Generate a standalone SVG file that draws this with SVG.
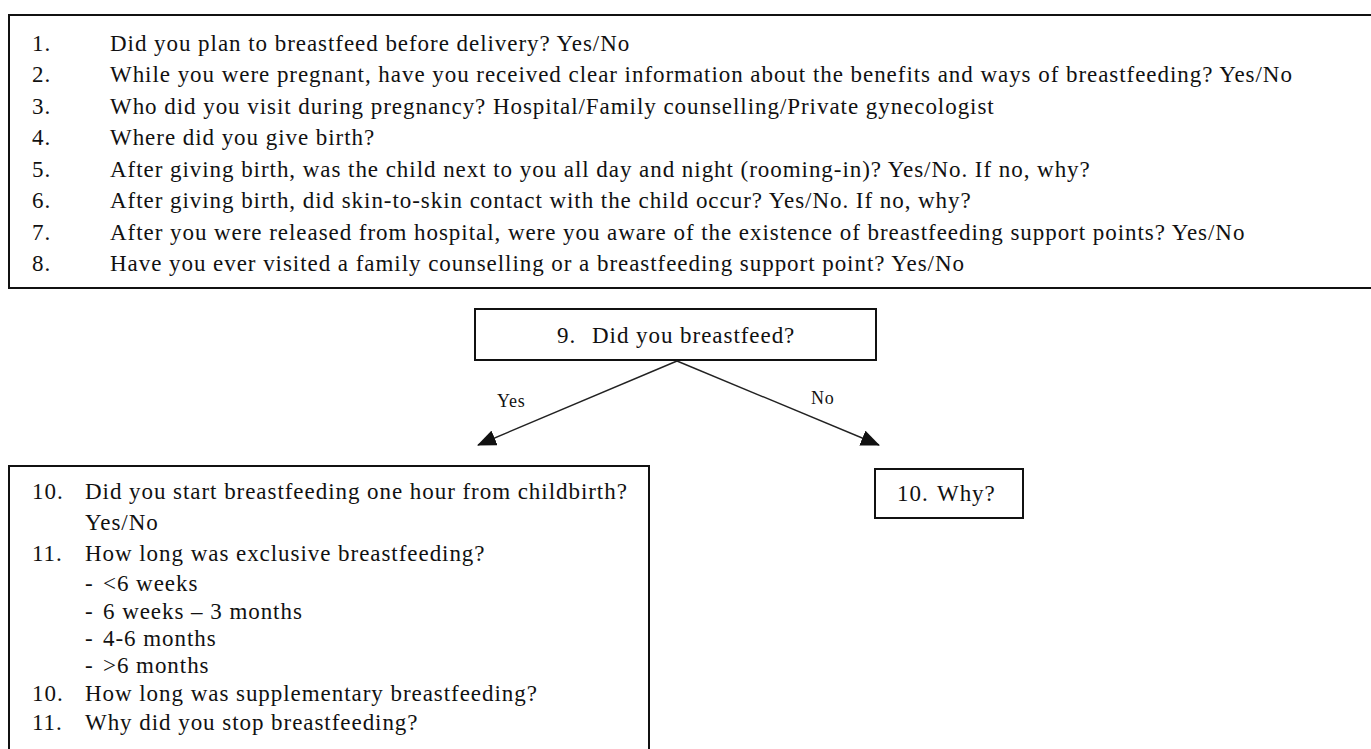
<svg xmlns="http://www.w3.org/2000/svg" width="1371" height="749" viewBox="0 0 1371 749">
<style>
text{font-family:"Liberation Serif","DejaVu Serif",serif;font-size:23px;letter-spacing:0.95px;fill:#111}
.box{fill:#fff;stroke:#111;stroke-width:2}
.lbl{font-size:18px;letter-spacing:0.8px}
.conn{stroke:#222;stroke-width:1.4;fill:none}
</style>
<defs>
<marker id="ah" markerWidth="19" markerHeight="16" refX="18" refY="8" orient="auto" markerUnits="userSpaceOnUse">
<path d="M0,0 L19,8 L0,16 Z" fill="#111"/>
</marker>
</defs>
<rect width="1371" height="749" fill="#fff"/>
<g id="node-general">
<rect class="box" x="9" y="15" width="1370" height="273"/>
<text x="32" y="50.5">1.</text><text x="110" y="50.5">Did you plan to breastfeed before delivery? Yes/No</text>
<text x="32" y="82">2.</text><text x="110" y="82">While you were pregnant, have you received clear information about the benefits and ways of breastfeeding? Yes/No</text>
<text x="32" y="113.5">3.</text><text x="110" y="113.5">Who did you visit during pregnancy? Hospital/Family counselling/Private gynecologist</text>
<text x="32" y="145">4.</text><text x="110" y="145">Where did you give birth?</text>
<text x="32" y="176.5">5.</text><text x="110" y="176.5">After giving birth, was the child next to you all day and night (rooming-in)? Yes/No. If no, why?</text>
<text x="32" y="208">6.</text><text x="110" y="208">After giving birth, did skin-to-skin contact with the child occur? Yes/No. If no, why?</text>
<text x="32" y="239.5">7.</text><text x="110" y="239.5">After you were released from hospital, were you aware of the existence of breastfeeding support points? Yes/No</text>
<text x="32" y="271">8.</text><text x="110" y="271">Have you ever visited a family counselling or a breastfeeding support point? Yes/No</text>
</g>
<g id="node-q9">
<rect class="box" x="475" y="309" width="401" height="51"/>
<text x="557" y="343">9.</text><text x="592" y="343">Did you breastfeed?</text>
</g>
<g id="connectors">
<line class="conn" x1="677" y1="361" x2="478" y2="445" marker-end="url(#ah)"/>
<line class="conn" x1="677" y1="361" x2="879" y2="445" marker-end="url(#ah)"/>
<text class="lbl" x="497" y="407">Yes</text>
<text class="lbl" x="811" y="404">No</text>
</g>
<g id="node-yes">
<rect class="box" x="9" y="466" width="640" height="300"/>
<text x="32" y="499">10.</text><text x="85" y="499">Did you start breastfeeding one hour from childbirth?</text>
<text x="85" y="530">Yes/No</text>
<text x="32" y="561">11.</text><text x="85" y="561">How long was exclusive breastfeeding?</text>
<text x="85" y="591">-</text><text x="103" y="591">&lt;6 weeks</text>
<text x="85" y="619">-</text><text x="103" y="619">6 weeks – 3 months</text>
<text x="85" y="646">-</text><text x="103" y="646">4-6 months</text>
<text x="85" y="673">-</text><text x="103" y="673">&gt;6 months</text>
<text x="32" y="701">10.</text><text x="85" y="701">How long was supplementary breastfeeding?</text>
<text x="32" y="730">11.</text><text x="85" y="730">Why did you stop breastfeeding?</text>
</g>
<g id="node-no">
<rect class="box" x="875" y="469" width="148" height="49"/>
<text x="897" y="501">10.</text><text x="937" y="501">Why?</text>
</g>
</svg>
